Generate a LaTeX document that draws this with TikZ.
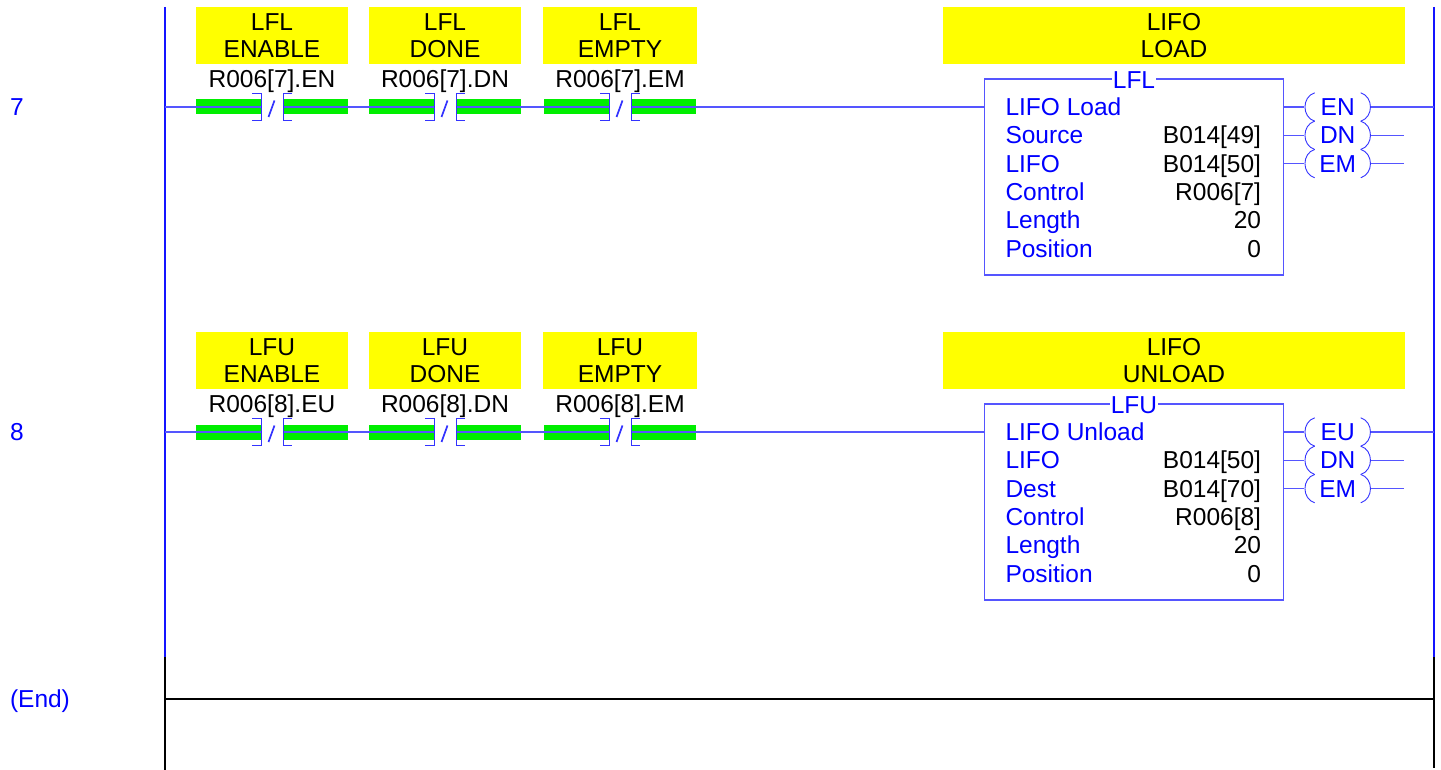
\documentclass[tikz,border=0pt]{standalone}
\usepackage{fontspec}
\setmainfont{Liberation Sans}
\usetikzlibrary{calc}
\definecolor{railblue}{RGB}{20,20,255}
\definecolor{wireblue}{RGB}{85,85,255}
\definecolor{txtblue}{RGB}{0,0,255}
\definecolor{cmtyellow}{RGB}{255,255,0}
\definecolor{contgreen}{RGB}{0,238,0}
\newcommand{\plccontact}[3]{%
  \fill[bar] (#2-76,#3-7.5) rectangle (#2-11,#3+7.5);
  \fill[bar] (#2+11,#3-7.5) rectangle (#2+76,#3+7.5);
  \coordinate (#1l) at (#2-11,#3);
  \coordinate (#1r) at (#2+11,#3);
}
\newcommand{\plcbrackets}[2]{%
  \draw[brk] (#1-20,#2-14) -- (#1-11,#2-14) -- (#1-11,#2+13) -- (#1-20,#2+13);
  \draw[brk] (#1+20,#2-14) -- (#1+11,#2-14) -- (#1+11,#2+13) -- (#1+20,#2+13);
  \draw[brk,line width=1.7pt] (#1-3.5,#2+10) -- (#1+2.5,#2-6.5);
}
\newcommand{\plccoil}[4]{% name, x, y, text
  \node[coilnode,bluetxt] (#1) at (#2,#3) {};
  \node[bluetxt,anchor=base] at (#2,#3+8.6) {#4};
  \draw[brk] ([xshift=10.3pt]#1.north west) .. controls +(-13,4) and +(-13,-4) .. ([xshift=10.3pt]#1.south west);
  \draw[brk] ([xshift=-10.3pt]#1.north east) .. controls +(13,4) and +(13,-4) .. ([xshift=-10.3pt]#1.south east);
}
\begin{document}
\begin{tikzpicture}[x=1pt,y=-1pt,
  every node/.style={inner sep=0pt,outer sep=0pt},
  txt/.style={font=\fontsize{24.5}{29}\selectfont},
  bluetxt/.style={txt,text=txtblue},
  blacktxt/.style={txt,text=black},
  rail/.style={draw=railblue,line width=1.6pt},
  endrail/.style={draw=black,line width=1.5pt},
  wire/.style={draw=wireblue,line width=1.1pt},
  cmt/.style={fill=cmtyellow,minimum height=57pt,anchor=north west},
  fbbox/.style={draw=wireblue,line width=1.1pt,minimum width=299pt,minimum height=196pt,anchor=north west},
  coilnode/.style={minimum width=66.6pt,minimum height=28.4pt},
  bar/.style={fill=contgreen},
  brk/.style={draw=txtblue!80!white,line width=0.9pt}
]
\useasboundingbox (0,0) rectangle (1441,770);

% ---------- rails ----------
\coordinate (LT) at (165.2,7);
\coordinate (LM) at (165.2,657);
\coordinate (LB) at (165.2,770);
\coordinate (RT) at (1434,7);
\coordinate (RM) at (1434,657);
\coordinate (RB) at (1434,768);
\coordinate (LE) at (165.2,699);
\coordinate (RE) at (1434,699);
\draw[rail] (LT) -- (LM);
\draw[rail] (RT) -- (RM);
\draw[endrail] (LM) -- (LB);
\draw[endrail] (RM) -- (RB);
\draw[endrail,line width=1.1pt] (LE) -- (RE);

% ---------- rung numbers ----------
\node[bluetxt,anchor=base west] (n7) at (10,115.6) {7};
\node[bluetxt,anchor=base west] (n8) at (10,440.6) {8};
\node[bluetxt,anchor=base west] (nend) at (10,707.6) {(End)};

% ================= RUNG 7 =================
\node[cmt,minimum width=152pt] (y71) at (196,7) {};
\node[cmt,minimum width=152pt] (y72) at (369,7) {};
\node[cmt,minimum width=154pt] (y73) at (543,7) {};
\node[cmt,minimum width=462pt] (y74) at (943,7) {};
\node[blacktxt,anchor=base] at (272,30.6) {LFL};
\node[blacktxt,anchor=base] at (272,57.6) {ENABLE};
\node[blacktxt,anchor=base] at (272,87.6) {R006[7].EN};
\node[blacktxt,anchor=base] at (445,30.6) {LFL};
\node[blacktxt,anchor=base] at (445,57.6) {DONE};
\node[blacktxt,anchor=base] at (445,87.6) {R006[7].DN};
\node[blacktxt,anchor=base] at (620,30.6) {LFL};
\node[blacktxt,anchor=base] at (620,57.6) {EMPTY};
\node[blacktxt,anchor=base] at (620,87.6) {R006[7].EM};
\node[blacktxt,anchor=base] at (1174,30.6) {LIFO};
\node[blacktxt,anchor=base] at (1174,57.6) {LOAD};

\coordinate (L7) at (165.2,107);
\coordinate (R7) at (1434,107);
\plccontact{c71}{272}{107}
\plccontact{c72}{445}{107}
\plccontact{c73}{620}{107}

\node[fbbox] (fb7) at (984.5,79) {};
\coordinate (fb7a) at (1283.5,107);
\coordinate (fb7b) at (1283.5,135.3);
\coordinate (fb7c) at (1283.5,163.6);
\draw[wire] (L7) -- (c71l) (c71r) -- (c72l) (c72r) -- (c73l) (c73r) -- (fb7.west |- L7);
\plcbrackets{272}{107}
\plcbrackets{445}{107}
\plcbrackets{620}{107}
\node[bluetxt,fill=white,inner xsep=1pt,anchor=base] (t7) at (1134,88.6) {LFL};

\node[bluetxt,anchor=base west] at (1005.5,115.6) {LIFO Load};
\node[bluetxt,anchor=base west] at (1005.5,143.9) {Source};
\node[bluetxt,anchor=base west] at (1005.5,172.2) {LIFO};
\node[bluetxt,anchor=base west] at (1005.5,200.5) {Control};
\node[bluetxt,anchor=base west] at (1005.5,228.8) {Length};
\node[bluetxt,anchor=base west] at (1005.5,257.1) {Position};
\node[blacktxt,anchor=base east] at (1261,143.9) {B014[49]};
\node[blacktxt,anchor=base east] at (1261,172.2) {B014[50]};
\node[blacktxt,anchor=base east] at (1261,200.5) {R006[7]};
\node[blacktxt,anchor=base east] at (1261,228.8) {20};
\node[blacktxt,anchor=base east] at (1261,257.1) {0};

\plccoil{k71}{1337.7}{107}{EN}
\plccoil{k72}{1337.7}{135.3}{DN}
\plccoil{k73}{1337.7}{163.6}{EM}
\coordinate (e72) at (1403.5,135.3);
\coordinate (e73) at (1403.5,163.6);
\draw[wire] (fb7a) -- (k71.west) (k71.east) -- (R7);
\draw[wire] (fb7b) -- (k72.west) (k72.east) -- (e72);
\draw[wire] (fb7c) -- (k73.west) (k73.east) -- (e73);

% ================= RUNG 8 =================
\node[cmt,minimum width=152pt] (y81) at (196,332) {};
\node[cmt,minimum width=152pt] (y82) at (369,332) {};
\node[cmt,minimum width=154pt] (y83) at (543,332) {};
\node[cmt,minimum width=462pt] (y84) at (943,332) {};
\node[blacktxt,anchor=base] at (272,355.6) {LFU};
\node[blacktxt,anchor=base] at (272,382.6) {ENABLE};
\node[blacktxt,anchor=base] at (272,412.6) {R006[8].EU};
\node[blacktxt,anchor=base] at (445,355.6) {LFU};
\node[blacktxt,anchor=base] at (445,382.6) {DONE};
\node[blacktxt,anchor=base] at (445,412.6) {R006[8].DN};
\node[blacktxt,anchor=base] at (620,355.6) {LFU};
\node[blacktxt,anchor=base] at (620,382.6) {EMPTY};
\node[blacktxt,anchor=base] at (620,412.6) {R006[8].EM};
\node[blacktxt,anchor=base] at (1174,355.6) {LIFO};
\node[blacktxt,anchor=base] at (1174,382.6) {UNLOAD};

\coordinate (L8) at (165.2,432);
\coordinate (R8) at (1434,432);
\plccontact{c81}{272}{432}
\plccontact{c82}{445}{432}
\plccontact{c83}{620}{432}

\node[fbbox] (fb8) at (984.5,404) {};
\coordinate (fb8a) at (1283.5,432);
\coordinate (fb8b) at (1283.5,460.3);
\coordinate (fb8c) at (1283.5,488.6);
\draw[wire] (L8) -- (c81l) (c81r) -- (c82l) (c82r) -- (c83l) (c83r) -- (fb8.west |- L8);
\plcbrackets{272}{432}
\plcbrackets{445}{432}
\plcbrackets{620}{432}
\node[bluetxt,fill=white,inner xsep=1pt,anchor=base] (t8) at (1134,413.6) {LFU};

\node[bluetxt,anchor=base west] at (1005.5,440.6) {LIFO Unload};
\node[bluetxt,anchor=base west] at (1005.5,468.9) {LIFO};
\node[bluetxt,anchor=base west] at (1005.5,497.2) {Dest};
\node[bluetxt,anchor=base west] at (1005.5,525.5) {Control};
\node[bluetxt,anchor=base west] at (1005.5,553.8) {Length};
\node[bluetxt,anchor=base west] at (1005.5,582.1) {Position};
\node[blacktxt,anchor=base east] at (1261,468.9) {B014[50]};
\node[blacktxt,anchor=base east] at (1261,497.2) {B014[70]};
\node[blacktxt,anchor=base east] at (1261,525.5) {R006[8]};
\node[blacktxt,anchor=base east] at (1261,553.8) {20};
\node[blacktxt,anchor=base east] at (1261,582.1) {0};

\plccoil{k81}{1337.7}{432}{EU}
\plccoil{k82}{1337.7}{460.3}{DN}
\plccoil{k83}{1337.7}{488.6}{EM}
\coordinate (e82) at (1403.5,460.3);
\coordinate (e83) at (1403.5,488.6);
\draw[wire] (fb8a) -- (k81.west) (k81.east) -- (R8);
\draw[wire] (fb8b) -- (k82.west) (k82.east) -- (e82);
\draw[wire] (fb8c) -- (k83.west) (k83.east) -- (e83);
\end{tikzpicture}
\end{document}
